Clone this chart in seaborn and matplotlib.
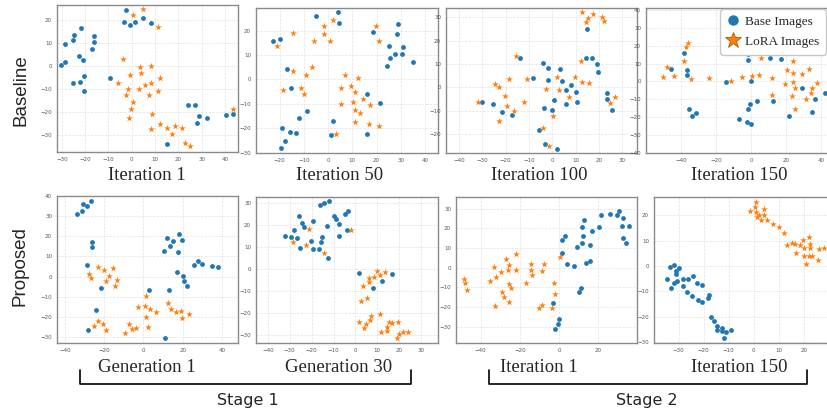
import numpy as np
import pandas as pd
import matplotlib.pyplot as plt
import seaborn as sns
from matplotlib.lines import Line2D

# t-SNE embeddings as (x, y) pairs

top_titles = ["Iteration 1", "Iteration 50", "Iteration 100", "Iteration 150"]
bottom_titles = ["Generation 1", "Generation 30", "Iteration 1", "Iteration 150"]
row_labels = ["Baseline", "Proposed"]
stage_labels = ["Stage 1", "Stage 2"]
legend_labels = ["Base Images", "LoRA Images"]

# Baseline, iteration 1
base_b1 = [(-2.6, 24.3), (-3.5, 19.0), (-0.8, 17.7), (1.4, 19.3), (4.7, 20.7), (8.1, 18.8),
           (-22.0, 16.7), (-24.6, 13.5), (-25.1, 11.3), (-28.6, 9.6), (-16.1, 13.2), (-16.1, 10.3),
           (-17.0, 7.4), (-22.5, 4.5), (-21.1, 2.7), (-28.6, 1.8), (-30.4, 0.3), (-20.7, -4.4),
           (-22.3, -6.9), (-25.3, -7.2), (-20.4, -10.6), (-9.5, -5.0), (24.3, -17.0), (27.0, -16.8),
           (28.7, -21.8), (32.3, -22.5), (27.9, -24.8), (15.0, -33.8), (40.3, -21.3), (43.5, -20.6)]
lora_b1 = [(4.7, 24.8), (0.5, 22.0), (11.3, 17.1), (-3.6, 3.1), (3.5, -0.5), (8.3, 0.2),
           (-0.6, -3.7), (4.1, -3.1), (12.1, -5.0), (-5.8, -7.2), (-1.5, -9.9), (2.9, -9.8),
           (5.8, -8.0), (8.3, -7.5), (11.1, -10.9), (-2.6, -12.7), (7.2, -12.7), (0.5, -15.7),
           (-0.3, -18.7), (8.8, -20.6), (-1.1, -22.3), (12.0, -24.9), (15.0, -27.0), (18.4, -26.1),
           (21.4, -26.7), (8.4, -27.4), (17.1, -29.6), (22.9, -33.5), (24.9, -34.5), (43.5, -18.4)]

# Baseline, iteration 50
base_b50 = [(-4.9, 26.0), (4.0, 27.8), (4.3, 23.0), (-22.9, 15.9), (-19.9, 16.5), (18.4, 19.6),
            (28.8, 22.6), (28.6, 18.5), (25.0, 13.6), (30.8, 13.5), (27.6, 10.6), (30.4, 10.5),
            (25.4, 8.9), (35.2, 7.1), (24.3, 5.3), (-16.8, 4.1), (-15.4, -3.5), (16.2, -5.9),
            (21.3, -9.8), (-8.7, -13.1), (-11.8, -15.8), (1.9, -17.2), (-18.8, -19.8), (-15.5, -21.5),
            (-13.2, -22.1), (-17.9, -25.3), (-19.5, -28.2), (1.2, -23.0), (15.9, -22.5)]
lora_b50 = [(1.9, 24.5), (-1.6, 21.9), (-1.6, 18.5), (0.8, 15.9), (-5.9, 15.7), (-14.4, 19.1),
            (-21.2, 13.8), (19.8, 22.1), (21.0, 15.8), (-14.3, 3.4), (-6.6, 5.2), (-9.3, 1.9),
            (6.9, 1.8), (12.5, 0.7), (-18.4, -4.2), (-11.3, -3.4), (-9.9, -6.0), (5.2, -3.4),
            (9.3, -2.6), (11.1, -5.0), (14.4, -7.9), (10.3, -9.1), (5.5, -10.2), (17.2, -10.6),
            (11.0, -12.4), (13.2, -13.9), (11.0, -17.3), (16.8, -18.5), (21.0, -19.3), (3.2, -22.5)]

# Baseline, iteration 100
base_b100 = [(14.9, 25.1), (-14.0, 12.4), (-4.1, 10.3), (-1.7, 8.1), (3.1, 7.7), (14.6, 12.7),
             (17.0, 12.6), (19.0, 9.9), (19.6, 6.6), (-1.7, 3.0), (4.0, 2.9), (-8.4, 3.9),
             (8.1, 0.9), (6.0, -1.3), (10.1, -1.9), (0.9, -5.4), (5.7, -7.3), (10.4, -6.3),
             (-3.6, -8.7), (-0.3, -9.6), (-30.1, -6.3), (-25.4, -7.3), (-21.6, -10.7), (-17.3, -11.7),
             (-5.7, -18.3), (-3.1, -24.3), (2.1, -26.3), (23.4, -2.6), (23.4, -5.1), (25.4, -9.7)]
lora_b100 = [(12.9, 32.4), (17.4, 31.4), (15.1, 29.9), (14.4, 28.1), (21.3, 30.3), (22.3, 28.6),
             (-15.6, 13.4), (12.4, 11.4), (2.0, 4.3), (9.9, 4.4), (12.6, 2.4), (15.9, 2.0),
             (-11.0, 3.4), (-18.4, 3.6), (-24.7, 1.4), (-23.0, 0.1), (-2.7, -0.7), (3.0, -1.3),
             (7.3, -4.0), (-20.3, -3.7), (26.9, -4.0), (-19.4, -8.0), (-12.1, -6.1), (-16.4, -10.1),
             (-32.0, -6.3), (24.9, -6.9), (-22.9, -14.3), (0.1, -12.4), (-4.0, -17.6), (-1.3, -25.1)]

# Baseline, iteration 150
base_b150 = [(-45.9, 7.1), (-38.0, 15.7), (-36.8, 6.7), (-36.8, 3.4), (-35.3, -15.4), (-33.6, -19.3),
             (-31.7, -17.6), (-14.2, -0.2), (-1.7, 15.4), (-1.7, 12.2), (-0.2, 0.2), (-0.9, -12.5),
             (3.2, -10.7), (-1.9, -15.4), (-7.0, -20.8), (-2.5, -22.5), (0.0, -23.8), (10.8, 13.3),
             (17.1, 12.5), (12.5, -10.9), (21.6, -19.1), (28.8, -3.4), (36.2, -10.1), (34.7, -17.0),
             (42.1, -6.7)]
lora_b150 = [(-50.1, 2.4), (-48.2, 8.2), (-43.8, 3.2), (-38.5, 11.4), (-37.0, 19.1), (-36.1, 21.7),
             (-34.2, 1.5), (-24.1, 2.1), (-11.6, 0.4), (-5.5, 2.4), (0.6, 2.8), (4.2, 3.4),
             (5.7, 13.1), (11.6, 2.2), (12.1, -7.7), (20.3, 6.4), (23.9, 4.9), (24.1, 11.6),
             (23.9, -0.2), (25.0, -3.7), (19.5, -1.3), (23.1, -8.1), (24.7, -15.4), (28.8, 4.3),
             (33.0, 7.1), (37.4, -0.7), (34.5, -3.7), (34.2, -6.7), (31.5, -9.9)]

# Proposed, stage 1 generation 1
base_p1 = [(-33.9, 31.0), (-31.4, 32.7), (-31.0, 36.2), (-28.6, 35.2), (-26.9, 37.7), (-26.3, 17.0),
           (-26.1, 14.7), (-28.8, 5.8), (-21.4, -5.8), (-24.1, -16.8), (-28.0, -26.7), (10.3, 12.8),
           (12.0, 19.0), (13.7, 15.0), (15.1, 17.7), (18.0, 21.0), (19.5, 18.2), (17.6, 12.2),
           (25.9, 5.8), (27.8, 7.8), (30.0, 6.2), (35.1, 5.2), (38.1, 4.8), (17.1, 2.3),
           (20.2, 0.3), (20.5, -2.3), (22.0, -4.7), (2.7, -6.8), (13.2, -6.8), (10.8, -30.7)]
lora_p1 = [(-23.2, 4.5), (-20.3, 3.2), (-15.6, 4.3), (-27.5, 1.5), (-26.6, -0.8), (-17.6, 0.2),
           (-19.3, -2.0), (-13.7, -1.8), (-14.7, -4.8), (-2.9, -15.0), (1.5, -9.7), (1.0, -14.5),
           (3.4, -16.3), (6.6, -17.5), (1.4, -20.2), (2.2, -25.0), (12.4, -13.0), (14.1, -16.3),
           (16.4, -17.8), (19.2, -17.0), (19.8, -20.5), (23.4, -18.8), (-23.1, -22.3), (-20.7, -23.8),
           (-25.3, -24.5), (-19.3, -26.5), (-7.6, -23.5), (-5.9, -26.0), (-3.6, -25.8), (-9.5, -28.0)]

# Proposed, stage 1 generation 30
base_p30 = [(-16.1, 29.2), (-14.5, 30.0), (-12.2, 30.8), (-25.7, 24.1), (-24.4, 21.1), (-23.3, 19.4),
            (-28.2, 17.9), (-19.2, 21.8), (-32.0, 15.2), (-29.2, 14.5), (-26.6, 14.2), (-25.1, 9.8),
            (-20.1, 12.9), (-19.6, 9.4), (-16.7, 9.2), (-15.9, 12.4), (-15.1, 14.8), (-12.9, 19.7),
            (-12.5, 5.3), (-9.6, 24.1), (-8.8, 22.7), (-7.3, 20.5), (-7.6, 15.2), (-4.7, 25.3),
            (-3.2, 26.5), (-3.7, 18.0), (1.8, -1.8), (8.1, -8.5), (12.2, -5.5), (16.9, -2.3)]
lora_p30 = [(-21.3, 18.2), (-28.5, 12.4), (-22.4, 11.1), (-14.5, 7.4), (-2.0, 18.0), (10.0, -0.8),
            (13.7, -1.4), (11.4, -2.6), (8.7, -3.6), (6.1, -3.9), (6.1, -5.9), (3.3, -7.6),
            (5.2, -13.2), (2.4, -14.4), (7.0, -21.4), (6.8, -23.2), (11.0, -20.5), (1.8, -23.8),
            (5.0, -25.0), (4.1, -26.5), (15.1, -23.8), (16.9, -24.4), (19.5, -24.1), (14.5, -26.2),
            (14.6, -28.2), (11.6, -28.6), (19.8, -29.4), (21.6, -28.6), (24.2, -28.5), (19.0, -31.4)]

# Proposed, stage 2 iteration 1
base_s1 = [(25.9, 27.1), (29.3, 26.9), (30.7, 29.0), (32.4, 25.1), (32.0, 21.4), (35.4, 21.2),
           (32.4, 14.9), (34.1, 12.7), (21.4, 26.6), (20.2, 20.7), (16.6, 18.8), (11.7, 20.7),
           (12.9, 24.2), (12.2, 16.1), (11.7, 12.7), (15.6, 11.5), (9.3, 10.3), (3.1, 15.9),
           (1.5, 14.2), (1.4, 7.6), (4.2, 2.0), (7.8, 1.0), (13.7, 2.4), (15.8, 3.2),
           (10.2, -12.4), (11.4, -10.3), (-3.2, -17.8), (0.0, -26.3), (-0.7, -28.8), (-2.0, -31.4)]
lora_s1 = [(-26.9, 4.2), (-21.9, 7.1), (-33.2, 0.3), (-29.8, -2.4), (-25.9, -1.0), (-25.3, 1.5),
           (-22.0, -1.0), (-35.1, -6.8), (-32.0, -4.9), (-48.6, -5.8), (-47.8, -8.0), (-47.1, -11.2),
           (-25.6, -8.1), (-24.4, -10.3), (-29.3, -12.4), (-28.1, -14.7), (-25.3, -17.3), (-32.5, -19.3),
           (-16.9, -7.6), (-14.1, 1.7), (-14.1, -1.2), (-13.7, -3.9), (-8.6, -1.7), (-7.5, 2.0),
           (-2.5, -7.8), (-1.9, -13.4), (-8.6, -19.0), (-10.3, -20.7), (-3.4, -20.5), (0.7, 5.3)]

# Proposed, stage 2 iteration 150
base_s150 = [(-33.6, -0.5), (-31.8, 0.3), (-29.7, -0.9), (-31.1, -2.0), (-30.9, -3.3), (-34.6, -5.1),
             (-32.0, -6.7), (-30.6, -5.8), (-28.2, -5.1), (-26.3, -5.3), (-24.1, -3.8), (-22.7, -6.6),
             (-20.7, -7.5), (-33.2, -8.6), (-28.2, -7.9), (-26.7, -10.4), (-24.6, -12.0), (-22.2, -13.4),
             (-20.6, -14.1), (-17.7, -11.6), (-18.1, -12.8), (-17.0, -20.1), (-15.9, -21.6), (-14.8, -23.6),
             (-14.6, -25.1), (-12.5, -24.5), (-12.8, -25.8), (-10.9, -26.1), (-9.0, -25.3), (-11.7, -28.4)]
lora_s150 = [(0.9, 25.4), (0.4, 23.2), (-1.5, 21.8), (0.9, 21.3), (2.0, 20.1), (1.2, 19.3),
             (3.1, 18.0), (4.3, 22.5), (4.3, 20.1), (5.3, 18.3), (7.8, 16.6), (10.0, 15.4),
             (12.2, 13.0), (13.4, 8.2), (15.3, 9.2), (16.6, 8.6), (16.9, 5.0), (18.4, 8.4),
             (19.8, 10.1), (20.1, 7.2), (20.1, 4.1), (22.3, 11.4), (22.5, 8.6), (22.6, 7.0),
             (22.0, 3.9), (23.3, 4.1), (21.0, 0.7), (25.7, 2.5), (26.1, 6.6), (28.2, 7.0)]

panels = [(base_b1, lora_b1), (base_b50, lora_b50), (base_b100, lora_b100), (base_b150, lora_b150),
          (base_p1, lora_p1), (base_p30, lora_p30), (base_s1, lora_s1), (base_s150, lora_s150)]

# layout: pixel box (left, top, right, bottom), xlim, ylim, xticks, yticks
layout = [
    ((57, 5, 238, 152), (-32.1, 45.6), (-37.2, 26.5), range(-30, 41, 10), range(-30, 21, 10)),
    ((256, 8, 438, 153), (-29.7, 45.3), (-30.2, 29.3), range(-20, 41, 10), range(-30, 21, 10)),
    ((446, 8, 637, 153), (-45.6, 36.3), (-28.1, 34.0), range(-40, 31, 10), range(-20, 31, 10)),
    ((646, 8, 860, 153), (-59.9, 62.0), (-40.1, 41.2), range(-40, 41, 20), range(-40, 41, 10)),
    ((57, 196, 238, 343), (-44.0, 48.1), (-33.2, 40.2), range(-40, 41, 20), range(-30, 41, 10)),
    ((256, 197, 438, 343), (-45.4, 37.7), (-33.5, 32.8), range(-40, 31, 10), range(-30, 31, 10)),
    ((456, 197, 637, 343), (-52.5, 39.7), (-38.3, 35.9), range(-40, 21, 20), range(-30, 31, 10)),
    ((654, 197, 860, 343), (-39.8, 42.5), (-30.4, 27.2), range(-30, 21, 10), range(-30, 21, 10)),
]

BLUE = "#1f77b4"
ORANGE = "#ff7f0e"
W, H = 827, 411

sns.set_style("white")
fig = plt.figure(figsize=(W / 100, H / 100), dpi=100)

for (base, lora), (box, xl, yl, xt, yt) in zip(panels, layout):
    l, t, r, b = box
    ax = fig.add_axes([l / W, 1 - b / H, (r - l) / W, (b - t) / H])
    df_b = pd.DataFrame(base, columns=["x", "y"])
    df_l = pd.DataFrame(lora, columns=["x", "y"])
    sns.scatterplot(data=df_b, x="x", y="y", ax=ax, color=BLUE, marker="o", s=12, linewidth=0)
    sns.scatterplot(data=df_l, x="x", y="y", ax=ax, color=ORANGE, marker="*", s=26, linewidth=0)
    ax.set_xlim(xl)
    ax.set_ylim(yl)
    ax.set_xticks(list(xt))
    ax.set_yticks(list(yt))
    ax.set_xlabel("")
    ax.set_ylabel("")
    ax.grid(True, ls="--", lw=0.5, color="#e2e2e2")
    ax.set_axisbelow(True)
    ax.tick_params(labelsize=4, colors="#555555", length=2, width=0.5, pad=1.5)
    for sp in ax.spines.values():
        sp.set_color("#8a8a8a")
        sp.set_linewidth(1.0)


def px_text(x, y, s, **kw):
    fig.text(x / W, 1 - y / H, s, **kw)


for x, s in zip([147, 340, 539, 739], top_titles):
    px_text(x, 180, s, ha="center", va="baseline", fontsize=13.5, family="Liberation Serif")
for x, s in zip([147, 339, 539, 739], bottom_titles):
    px_text(x, 372, s, ha="center", va="baseline", fontsize=13.5, family="Liberation Serif")

px_text(21, 90, row_labels[0], rotation=90, ha="center", va="center", fontsize=13.5, family="Liberation Sans")
px_text(20, 266, row_labels[1], rotation=90, ha="center", va="center", fontsize=13.5, family="Liberation Sans")

# stage brackets
for (x0, x1), xc, s in zip([(80, 411), (489, 807)], [248, 647], stage_labels):
    xs = [x0 / W, x0 / W, x1 / W, x1 / W]
    ys = [1 - 370 / H, 1 - 384 / H, 1 - 384 / H, 1 - 370 / H]
    fig.add_artist(Line2D(xs, ys, transform=fig.transFigure, color="black", lw=1.2))
    px_text(xc, 400, s, ha="center", va="center", fontsize=11.5, family="DejaVu Sans")

handles = [
    Line2D([], [], ls="none", marker="o", markersize=6.5, color=BLUE),
    Line2D([], [], ls="none", marker="*", markersize=12, markerfacecolor=ORANGE,
           markeredgecolor="#b65a00", markeredgewidth=0.6),
]
fig.legend(handles, legend_labels, loc="upper right", bbox_to_anchor=(826 / W, 1 - 9 / H),
           prop={"family": "Liberation Serif", "size": 9.5}, frameon=True, fancybox=True,
           edgecolor="#c8c8c8", framealpha=1, handlelength=1.0, handletextpad=0.4,
           borderpad=0.5, labelspacing=0.6, borderaxespad=0)

fig.savefig("out.png", dpi=100)
